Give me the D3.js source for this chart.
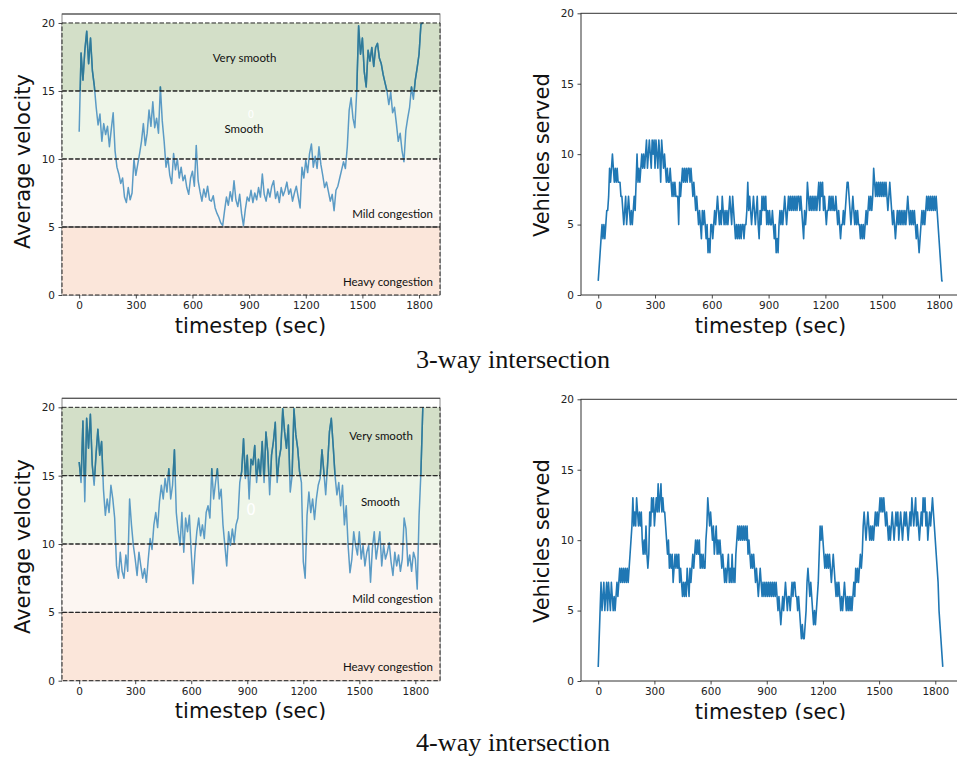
<!DOCTYPE html>
<html><head><meta charset="utf-8">
<script src="https://cdn.jsdelivr.net/npm/d3@7"></script>
<style>body{margin:0;background:#fff} svg{display:block}</style>
</head><body>
<svg id="c" width="957" height="758"></svg>
<script>
// Average velocity, 3-way intersection, one value every 10 s (0..1820)
const velocity3 = [
12.0,17.8,15.8,18.0,19.4,17.0,18.9,16.5,15.4,13.8,12.5,13.3,11.3,12.6,11.8,12.4,10.9,12.2,13.4,10.6,
9.4,8.9,8.2,8.6,7.2,6.8,7.9,7.0,7.5,10.0,8.8,9.6,10.4,11.3,12.6,11.0,11.9,13.6,12.4,14.2,
12.3,13.0,11.9,15.3,12.8,11.3,9.4,10.1,8.8,8.2,10.4,9.2,10.0,8.6,9.4,8.4,8.8,7.9,7.4,8.6,
9.1,8.0,11.0,8.4,7.6,6.9,7.8,7.2,8.0,7.0,6.9,7.3,6.4,6.0,5.7,5.3,5.1,6.2,7.2,6.6,
7.6,6.9,8.4,7.0,6.5,7.4,6.0,5.1,6.3,7.2,6.9,7.7,6.8,7.5,7.0,7.9,7.2,8.9,7.4,6.9,
7.8,7.2,8.0,8.4,7.1,7.6,6.8,7.9,7.3,7.7,8.3,7.4,7.8,6.9,7.5,8.0,7.2,6.4,9.4,8.6,
9.9,9.0,10.4,11.1,9.4,10.2,9.3,10.9,9.6,8.8,7.9,8.3,7.6,6.9,7.4,6.2,7.7,8.0,8.6,9.2,
9.8,9.3,10.9,13.6,14.5,13.0,12.3,15.0,19.8,17.7,18.9,16.4,15.3,18.0,17.2,18.2,16.8,18.2,18.5,17.4,
17.0,16.2,15.6,15.0,14.0,14.9,13.4,13.8,12.6,11.3,11.9,10.6,9.8,12.1,13.0,13.8,15.3,14.4,15.8,16.7,
17.7,19.9,20.0];
// Average velocity, 4-way intersection, one value every 10 s (0..1840)
const velocity4 = [
16.0,14.5,19.0,13.1,19.2,17.0,19.5,15.8,14.3,16.5,18.4,16.5,17.5,14.0,12.1,13.3,12.3,14.3,13.3,11.9,
8.4,7.5,9.4,8.0,7.5,9.2,8.0,13.3,11.4,9.9,8.9,7.7,9.4,8.4,7.5,8.2,7.2,8.9,10.4,9.6,
11.4,12.3,11.2,13.1,14.3,13.3,14.8,13.8,15.5,13.3,14.3,16.9,12.3,10.9,9.9,12.3,9.4,11.9,10.9,12.1,
9.4,7.1,9.4,10.9,11.9,10.6,11.4,10.4,12.3,12.8,11.9,15.5,13.3,14.5,15.5,13.3,14.0,11.4,9.9,8.4,
10.9,9.9,11.1,10.1,11.4,11.9,14.5,15.3,17.7,14.8,16.5,13.3,16.2,15.8,17.2,14.5,16.2,15.0,17.5,14.5,
18.2,16.7,13.6,16.5,17.5,18.9,14.5,16.2,17.0,19.9,18.2,17.0,18.7,13.8,15.0,19.9,18.0,17.0,15.3,14.5,
8.7,7.5,12.1,13.8,12.3,13.3,11.8,13.3,14.3,14.8,16.9,15.3,13.6,15.8,18.2,19.2,17.2,15.0,13.6,14.5,
12.8,14.3,11.4,12.8,9.9,7.9,8.9,10.9,9.9,9.2,10.9,8.9,9.9,8.4,9.4,9.9,7.2,9.7,10.9,8.9,
9.9,10.9,8.4,9.9,8.9,9.4,10.1,8.7,7.7,9.4,8.4,9.2,8.0,8.9,11.9,11.1,8.4,9.2,8.0,9.4,
8.9,6.7,12.1,15.3,20.0];
// Vehicles served, 3-way intersection, one value every 5 s (0..1820)
const served3 = [
1,2,3,4,5,4,5,4,5,6,6,7,
9,8,9,10,9,8,9,8,9,8,8,8,
7,7,6,5,6,7,5,6,7,6,5,6,
5,6,7,6,8,10,8,9,8,9,10,9,
10,9,10,11,9,10,11,10,9,11,10,11,
9,11,10,9,11,10,8,11,10,9,10,9,
8,9,8,8,9,8,7,8,7,8,7,7,
7,5,8,7,8,9,8,9,8,9,8,9,
9,8,9,8,7,8,7,6,7,6,5,6,
5,4,6,5,6,5,4,5,3,4,3,5,
5,4,5,6,5,6,7,6,5,6,5,7,
6,5,6,5,6,5,6,7,6,5,7,6,
5,4,5,4,5,4,5,4,5,5,4,5,
5,6,8,6,7,6,5,6,7,6,5,6,
7,5,4,6,5,7,6,7,6,7,5,6,
5,6,5,5,6,5,4,5,3,4,3,5,
6,5,6,5,6,7,6,5,6,7,6,7,
6,7,6,7,6,7,6,7,7,6,7,6,
5,4,6,5,6,8,7,6,7,6,7,6,
7,6,7,6,7,8,6,8,7,8,6,7,
6,5,6,6,7,6,7,6,7,6,6,7,
6,5,6,5,4,5,5,6,5,6,7,8,
8,7,6,5,6,7,6,5,6,5,6,5,
5,4,5,4,5,4,5,6,5,6,7,6,
7,6,7,9,8,7,8,7,8,7,8,7,
8,7,8,7,8,7,6,7,8,7,6,5,
6,5,4,5,6,5,6,5,6,5,6,5,
6,5,6,7,6,5,6,5,6,5,6,5,
4,5,4,3,4,5,6,5,6,5,6,7,
6,7,6,7,6,7,6,7,6,7,6,5,
4,3,2,1,1];
// Vehicles served, 4-way intersection, one value every 5 s (0..1840)
const served4 = [
1,3,5,7,5,6,7,5,6,7,5,7,
6,5,7,6,5,6,5,6,7,6,7,8,
7,8,7,8,7,8,7,8,7,8,9,10,
11,13,11,12,11,13,12,11,12,11,12,10,
9,10,9,11,9,8,9,12,11,13,12,13,
11,12,13,12,14,12,13,14,12,13,12,12,
11,10,9,10,8,9,8,9,7,8,9,8,
9,8,9,7,8,7,6,7,6,7,6,8,
7,6,8,7,8,9,8,9,10,9,10,9,
10,8,9,8,9,8,8,10,11,13,12,11,
12,11,10,11,9,10,11,9,10,9,10,9,
8,9,8,7,8,7,8,9,7,8,7,9,
7,8,7,9,10,11,10,11,10,11,10,11,
10,11,10,11,9,10,9,8,9,8,9,8,
7,8,7,6,7,8,7,6,7,6,7,6,
7,6,7,6,7,6,7,6,7,6,7,6,
5,6,5,4,5,6,5,6,7,6,5,6,
6,5,6,7,6,7,7,6,6,5,6,5,
4,3,4,3,3,4,5,7,8,7,6,7,
6,5,4,5,4,5,6,7,9,11,10,11,
10,9,8,9,8,9,8,9,8,7,8,9,
8,7,6,7,6,7,6,5,6,5,6,7,
6,5,6,5,6,5,6,5,6,7,6,8,
7,8,7,8,9,8,9,11,12,11,10,11,
12,11,10,11,10,11,10,11,12,11,12,11,
12,13,12,13,12,13,12,11,12,11,10,11,
10,11,12,11,10,11,12,11,12,10,11,12,
11,10,11,12,11,12,11,10,11,12,11,13,
12,11,12,13,11,12,11,10,11,12,11,13,
12,13,11,12,10,11,12,11,12,13,12,11,
10,9,8,7,5,4,3,2,1];
const xTicks = [0, 300, 600, 900, 1200, 1500, 1800];
const yTicks = [0, 5, 10, 15, 20];
const bandNames = ["Heavy congestion", "Mild congestion", "Smooth", "Very smooth"];
const bandLow = [0, 5, 10, 15];
const bandHigh = [5, 10, 15, 20];
const captions = ["3-way intersection", "4-way intersection"];
const xLabel = "timestep (sec)";
const velLabel = "Average velocity";
const servedLabel = "Vehicles served";

const bandFill = ["#fbe6da", "#fcf6f2", "#eef5e8", "#d3dfc8"];
const svg = d3.select("#c");
const defs = svg.append("defs");
const SANS = "'DejaVu Sans', sans-serif";

function clipRect(id, x, y, w, h) {
  defs.append("clipPath").attr("id", id).append("rect")
    .attr("x", x).attr("y", y).attr("width", w).attr("height", h);
}
clipRect("rowTop", 0, 0, 957, 336);
clipRect("rowBot", 0, 388, 957, 332);

function drawAxes(g, x, y, bottom, left) {
  const ax = g.append("g").attr("transform", `translate(0,${bottom})`)
    .call(d3.axisBottom(x).tickValues(xTicks).tickSize(3.5).tickPadding(3.5).tickFormat(d3.format("d")));
  const ay = g.append("g").attr("transform", `translate(${left},0)`)
    .call(d3.axisLeft(y).tickValues(yTicks).tickSize(3.5).tickPadding(3.5).tickFormat(d3.format("d")));
  [ax, ay].forEach(a => {
    a.select(".domain").remove();
    a.selectAll("line").attr("stroke", "#333").attr("stroke-width", 0.9);
    a.selectAll("text").attr("font-family", SANS).attr("font-size", "10.5px").attr("fill", "#222");
  });
}

function axisTitles(g, cx, labelY, yLabelX, yCenter, ytext) {
  g.append("text").attr("x", cx).attr("y", labelY).attr("text-anchor", "middle")
    .attr("font-family", SANS).attr("font-size", "21px").attr("fill", "#111").text(xLabel);
  g.append("text").attr("transform", `translate(${yLabelX},${yCenter}) rotate(-90)`)
    .attr("text-anchor", "middle").attr("font-family", SANS).attr("font-size", "21px")
    .attr("fill", "#111").text(ytext);
}

function velocityPanel(clipId, series, xDom, top, bottom, labelPos, zeroPos, idx) {
  const g = svg.append("g").attr("clip-path", `url(#${clipId})`);
  const x = d3.scaleLinear().domain(xDom).range([62, 440]);
  const y = d3.scaleLinear().domain([0, 20.66]).range([bottom, top]);
  const [x0, x1] = x.range();
  g.append("rect").attr("x", x0).attr("y", top).attr("width", x1 - x0).attr("height", bottom - top)
    .attr("fill", "#fff").attr("stroke", "#888").attr("stroke-width", 1);
  bandNames.forEach((n, i) => {
    g.append("rect").attr("x", x0).attr("y", y(bandHigh[i])).attr("width", x1 - x0)
      .attr("height", y(bandLow[i]) - y(bandHigh[i])).attr("fill", bandFill[i]);
  });
  g.append("line").attr("x1", x0).attr("x2", x1).attr("y1", top).attr("y2", top)
    .attr("stroke", "#444").attr("stroke-width", 1.1);
  const line = d3.line().x((d, i) => x(i * 10)).y(d => y(d));
  const cid = "vs" + idx;
  defs.append("clipPath").attr("id", cid).append("rect")
    .attr("x", x0).attr("y", top - 2).attr("width", x1 - x0).attr("height", y(15) - top + 2);
  g.append("path").datum(series).attr("d", line).attr("fill", "none")
    .attr("stroke", "#5b9bc5").attr("stroke-width", 1.5).attr("stroke-linejoin", "round");
  g.append("path").datum(series).attr("d", line).attr("fill", "none").attr("clip-path", `url(#${cid})`)
    .attr("stroke", "#2f7a97").attr("stroke-width", 1.5).attr("stroke-linejoin", "round");
  bandNames.forEach((n, i) => {
    g.append("rect").attr("x", x0).attr("y", y(bandHigh[i])).attr("width", x1 - x0)
      .attr("height", y(bandLow[i]) - y(bandHigh[i])).attr("fill", "none")
      .attr("stroke", "#222").attr("stroke-width", 1).attr("stroke-dasharray", "4.5,2");
  });
  if (idx === 0) {
    g.append("line").attr("x1", x0).attr("x2", x1).attr("y1", y(5)).attr("y2", y(5))
      .attr("stroke", "#444").attr("stroke-width", 1.2);
  }
  bandNames.forEach((n, i) => {
    const p = labelPos[i];
    g.append("text").attr("x", p[0]).attr("y", p[1]).attr("text-anchor", p[2])
      .attr("font-family", "Lato, 'Open Sans', sans-serif").attr("font-size", "11.5px")
      .attr("fill", "#111").text(n);
  });
  g.append("text").attr("x", zeroPos[0]).attr("y", zeroPos[1]).attr("text-anchor", "middle")
    .attr("font-family", SANS).attr("font-size", zeroPos[2] + "px").attr("fill", "#ffffff").text("0");
  drawAxes(g, x, y, bottom, x0);
  axisTitles(g, 250.5, bottom + 37.5, 30, (top + bottom) / 2 + 7, velLabel);
}

function servedPanel(clipId, series, xDom, top, bottom) {
  const g = svg.append("g").attr("clip-path", `url(#${clipId})`);
  const x = d3.scaleLinear().domain(xDom).range([581, 960]);
  const y = d3.scaleLinear().domain([0, 20]).range([bottom, top]);
  const [x0, x1] = x.range();
  g.append("rect").attr("x", x0).attr("y", top).attr("width", x1 - x0).attr("height", bottom - top)
    .attr("fill", "none").attr("stroke", "#333").attr("stroke-width", 1);
  const line = d3.line().x((d, i) => x(i * 5)).y(d => y(d));
  g.append("path").datum(series).attr("d", line).attr("fill", "none")
    .attr("stroke", "#1f77b4").attr("stroke-width", 1.6).attr("stroke-linejoin", "round");
  drawAxes(g, x, y, bottom, x0);
  axisTitles(g, 770.5, bottom + 37.5, 549, (top + bottom) / 2 + 1, servedLabel);
}

// label positions given in bandNames order: Heavy, Mild, Smooth, Very smooth
velocityPanel("rowTop", velocity3, [-91, 1911], 14, 295,
  [[433, 286, "end"], [433, 218, "end"], [244, 133, "middle"], [244.5, 62, "middle"]],
  [251, 118, 10], 0);
servedPanel("rowTop", served3, [-91, 1911], 13.3, 295);
velocityPanel("rowBot", velocity4, [-92, 1932], 398.3, 680.7,
  [[433, 671, "end"], [433, 603, "end"], [380.5, 506, "middle"], [381, 440, "middle"]],
  [251, 515, 15], 1);
servedPanel("rowBot", served4, [-92, 1932], 399.3, 681);

[[513, 368], [513, 751]].forEach((p, i) => {
  svg.append("text").attr("x", p[0]).attr("y", p[1]).attr("text-anchor", "middle")
    .attr("font-family", "'Liberation Serif', 'DejaVu Serif', serif").attr("font-size", "25px")
    .attr("textLength", 194).attr("lengthAdjust", "spacingAndGlyphs")
    .attr("fill", "#111").text(captions[i]);
});
</script>
</body></html>
